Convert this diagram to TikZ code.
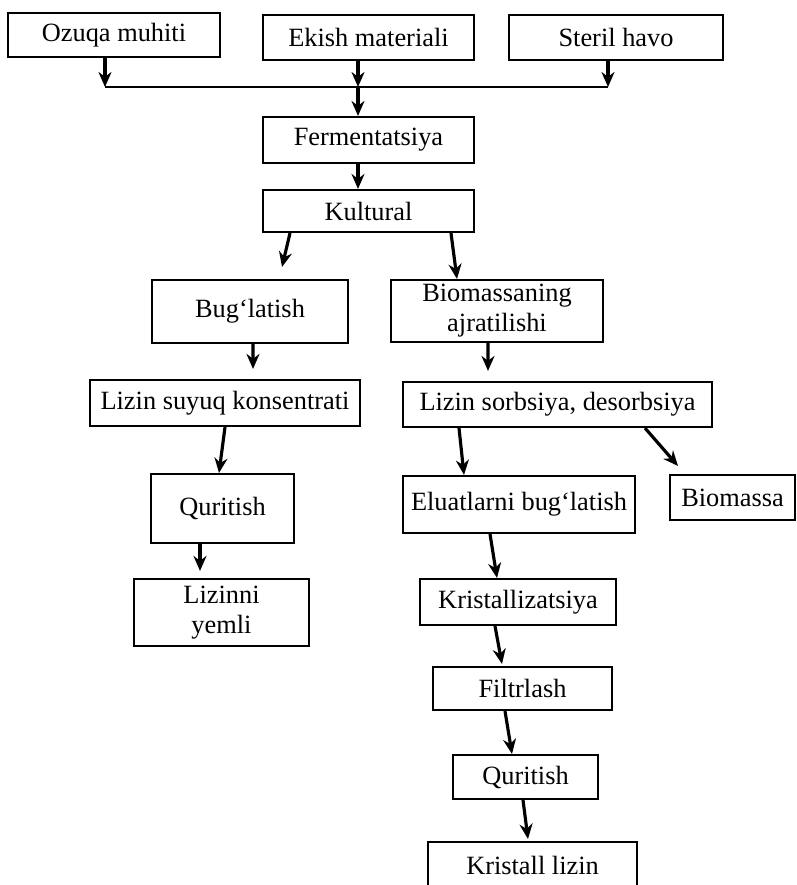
\documentclass[tikz,border=0pt]{standalone}
\usepackage{fontspec}
\setmainfont{Liberation Serif}
\usetikzlibrary{shapes.geometric, arrows.meta, calc}

\begin{document}
\begin{tikzpicture}
	\tikzstyle{box} = [rectangle, draw=black, line width=1.2pt, inner sep=2pt, align=center, font=\fontsize{15}{17}\selectfont]
	\tikzstyle{arrow} = [line width=1.8pt, ->, >={Stealth[length=3mm,width=2.6mm]}]
	\tikzstyle{line} = [line width=1.3pt]
  \useasboundingbox (0,0) rectangle (15.92,-17.7);
  % inputs
  \node(ozuqa)[box, minimum width=4.24cm, minimum height=0.88cm] at (2.28,-0.70) {Ozuqa muhiti};
  \node(ekish)[box, minimum width=4.22cm, minimum height=0.90cm] at (7.37,-0.75) {Ekish materiali};
  \node(steril)[box, minimum width=4.28cm, minimum height=0.90cm] at (12.32,-0.75) {Steril havo};
  \coordinate (jl) at (2.10,-1.74);
  \coordinate (jm) at (7.16,-1.74);
  \coordinate (jr) at (12.16,-1.74);
  % main column
  \node(ferm)[box, minimum width=4.22cm, minimum height=0.92cm] at (7.37,-2.80) {Fermentatsiya};
  \node(kultural)[box, minimum width=4.22cm, minimum height=0.84cm] at (7.37,-4.22) {Kultural};
  % left branch
  \node(bug)[box, minimum width=3.92cm, minimum height=1.26cm] at (5.00,-6.23) {Bug‘latish};
  \node(lsuyuq)[box, minimum width=5.40cm, minimum height=0.92cm] at (4.50,-8.06) {Lizin suyuq konsentrati};
  \node(qur1)[box, minimum width=2.86cm, minimum height=1.38cm] at (4.45,-10.17) {Quritish};
  \node(yemli)[box, minimum width=3.50cm, minimum height=1.34cm] at (4.43,-12.25) {Lizinni\\yemli};
  % right branch
  \node(biom)[box, minimum width=4.24cm, minimum height=1.24cm] at (9.94,-6.22) {Biomassaning\\ajratilishi};
  \node(lsorb)[box, minimum width=6.18cm, minimum height=0.90cm] at (11.15,-8.09) {Lizin sorbsiya, desorbsiya};
  \node(eluat)[box, minimum width=4.64cm, minimum height=1.14cm] at (10.38,-10.09) {Eluatlarni bug‘latish};
  \node(biomassa)[box, minimum width=2.50cm, minimum height=0.90cm] at (14.65,-9.95) {Biomassa};
  \node(krist)[box, minimum width=3.92cm, minimum height=0.92cm] at (10.36,-12.04) {Kristallizatsiya};
  \node(filtr)[box, minimum width=3.58cm, minimum height=0.86cm] at (10.45,-13.77) {Filtrlash};
  \node(qur2)[box, minimum width=2.90cm, minimum height=0.88cm] at (10.51,-15.54) {Quritish};
  \node(klizin)[box, minimum width=4.18cm, minimum height=0.92cm] at (10.65,-17.30) {Kristall lizin};

  \draw [arrow] (ozuqa.south -| jl) -- (jl);
  \draw [arrow] (ekish.south -| jm) -- (jm);
  \draw [arrow] (steril.south -| jr) -- (jr);
  \draw [line] (jl) -- (jr);
  \draw [arrow] (jm) -- (ferm.north -| jm);
  \draw [arrow] (ferm.south -| jm) -- (kultural.north -| jm);
  \draw [arrow] ($(kultural.south)+(-1.57,0)$) -- ($(bug.north)+(0.64,0.24)$);
  \draw [arrow] ($(kultural.south)+(1.65,0)$) -- ($(biom.north)+(-0.80,0)$);
  \draw [arrow] ($(bug.south)+(0.06,0)$) -- ($(lsuyuq.north)+(0.56,0.2)$);
  \draw [arrow] ($(biom.south)+(-0.18,0)$) -- ($(lsorb.north)+(-1.39,0.2)$);
  \draw [arrow] (lsuyuq.south) -- ($(qur1.north)+(-0.07,0)$);
  \draw [arrow] ($(lsorb.south)+(-1.97,0)$) -- ($(eluat.north)+(-1.10,0)$);
  \draw [arrow] ($(lsorb.south)+(1.75,0)$) -- ($(biomassa.north)+(-1.09,0.16)$);
  \draw [arrow] ($(qur1.south)+(-0.45,0)$) -- ($(yemli.north)+(-0.43,0.14)$);
  \draw [arrow] ($(eluat.south)+(-0.58,0)$) -- ($(krist.north)+(-0.42,0)$);
  \draw [arrow] ($(krist.south)+(-0.46,0)$) -- ($(filtr.north)+(-0.41,0.04)$);
  \draw [arrow] ($(filtr.south)+(-0.35,0)$) -- ($(qur2.north)+(-0.27,0)$);
  \draw [arrow] ($(qur2.south)+(-0.05,0)$) -- ($(klizin.north)+(-0.09,0.04)$);
\end{tikzpicture}
\end{document}
